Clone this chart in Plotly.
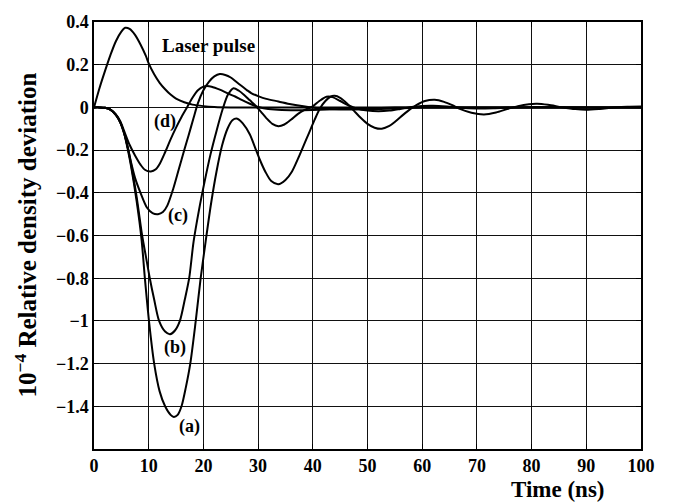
import plotly.graph_objects as go

# ---------------- data ----------------
laser_t = [0, 1, 2, 3, 4, 5, 5.7, 6.5, 7.5, 8.5, 9.5, 10, 11, 12, 13, 14, 15, 16.5, 18, 20, 22, 25, 30, 40, 50, 60, 70, 80, 90, 100]
laser_y = [0, 0.09, 0.17, 0.245, 0.31, 0.355, 0.373, 0.368, 0.34, 0.295, 0.24, 0.206, 0.155, 0.115, 0.085, 0.06, 0.041, 0.024, 0.013, 0.006, 0.002, 0, 0, 0, 0, 0, 0, 0, 0, 0]

d_t = [0, 1, 2, 3, 4, 4.8, 5.5, 6.5, 7.5, 8.5, 9.3, 10.4, 11.3, 12, 13, 14, 15, 16, 17, 18, 19, 20, 20.6, 21.5, 23, 24.5, 25.8, 27, 28.5, 29.7, 31, 33, 36, 40, 45, 50, 55, 60, 70, 80, 90, 100]
d_y = [0, 0, -0.002, -0.01, -0.033, -0.065, -0.11, -0.175, -0.225, -0.268, -0.292, -0.30, -0.29, -0.265, -0.21, -0.15, -0.095, -0.045, 0.0, 0.045, 0.08, 0.097, 0.10, 0.097, 0.083, 0.065, 0.051, 0.035, 0.017, 0.005, -0.004, -0.01, -0.013, -0.012, -0.008, -0.004, -0.001, 0, 0, 0, 0, 0]

c_t = [0, 1, 2, 3, 4, 4.8, 5.5, 6.2, 6.8, 7.5, 8.5, 9.7, 10.7, 11.7, 12.6, 13.4, 14.5, 15.5, 16.5, 17.3, 18.2, 19, 20, 21, 22, 23, 24, 25, 26, 27, 28, 28.8, 30, 31.5, 33.7, 36, 38.3, 41, 45, 50, 55, 60, 70, 80, 90, 100]
c_y = [0, 0, -0.002, -0.01, -0.035, -0.07, -0.12, -0.19, -0.26, -0.33, -0.40, -0.47, -0.495, -0.50, -0.49, -0.46, -0.38, -0.29, -0.20, -0.13, -0.05, 0.02, 0.08, 0.12, 0.145, 0.156, 0.152, 0.14, 0.12, 0.10, 0.08, 0.066, 0.053, 0.04, 0.028, 0.015, 0.005, -0.004, -0.01, -0.009, -0.005, -0.001, 0, 0, 0, 0]

b_t = [0, 1, 2, 3, 4, 4.8, 5.5, 6.2, 6.8, 7.8, 8.8, 9.5, 10.2, 11, 11.9, 13, 13.9, 14.8, 15.7, 16.6, 17.4, 18.2, 19.2, 20.2, 21.3, 22.4, 23.5, 24.5, 25.5, 26.5, 27.5, 28.5, 29.4, 30.5, 31.5, 32.6, 33.7, 34.8, 36, 37.3, 38.5, 40, 41.2, 42.5, 43.6, 45, 46.5, 48, 50, 52, 54, 56, 58, 60, 62, 64.5, 67, 70, 73, 77, 81, 90, 100]
b_y = [0, 0, -0.002, -0.01, -0.035, -0.07, -0.12, -0.19, -0.27, -0.42, -0.60, -0.70, -0.80, -0.90, -1.0, -1.05, -1.062, -1.045, -1.0, -0.9, -0.8, -0.63, -0.48, -0.35, -0.22, -0.11, -0.01, 0.06, 0.09, 0.078, 0.057, 0.033, 0.012, -0.02, -0.05, -0.077, -0.088, -0.08, -0.058, -0.03, -0.012, 0.005, 0.03, 0.05, 0.048, 0.03, 0.01, -0.005, -0.015, -0.018, -0.015, -0.007, 0.002, 0.007, 0.008, 0.004, -0.002, -0.005, -0.004, 0, 0.002, 0, 0]

a_t = [0, 1, 2, 3, 4, 4.8, 5.5, 6.2, 6.8, 7.8, 8.7, 9.3, 10.05, 11, 12, 13, 14, 14.6, 15.3, 16, 16.8, 17.6, 18.6, 19.5, 20.4, 21.4, 22.4, 23.4, 24.4, 25.3, 26.2, 27.2, 28.5, 29.4, 30.3, 31.3, 32.4, 33.7, 35, 36.2, 37.3, 38.3, 39.3, 40.3, 41.3, 42.3, 43.2, 44, 45, 46.2, 47.5, 48.8, 50, 51.3, 52.6, 54, 55.2, 56.5, 57.8, 59, 60.5, 62.3, 64, 65.5, 67, 69, 71.3, 73.5, 75.5, 77.5, 79.5, 81, 83, 85.5, 88, 90, 92.5, 95, 97.5, 100]
a_y = [0, 0, -0.002, -0.01, -0.035, -0.07, -0.12, -0.20, -0.28, -0.44, -0.62, -0.80, -1.0, -1.2, -1.33, -1.40, -1.44, -1.45, -1.44, -1.40, -1.31, -1.2, -1.0, -0.8, -0.63, -0.45, -0.30, -0.18, -0.10, -0.06, -0.053, -0.075, -0.127, -0.185, -0.244, -0.30, -0.345, -0.36, -0.34, -0.30, -0.24, -0.18, -0.12, -0.06, -0.005, 0.03, 0.05, 0.054, 0.045, 0.02, -0.015, -0.05, -0.077, -0.095, -0.10, -0.087, -0.064, -0.035, -0.008, 0.012, 0.03, 0.036, 0.026, 0.01, -0.008, -0.025, -0.033, -0.024, -0.008, 0.006, 0.015, 0.017, 0.012, 0.001, -0.008, -0.011, -0.007, -0.001, 0.003, 0.004]

x_ticks = [0, 10, 20, 30, 40, 50, 60, 70, 80, 90, 100]
y_ticks = [0.4, 0.2, 0, -0.2, -0.4, -0.6, -0.8, -1.0, -1.2, -1.4]
y_ticktext = ["0.4", "0.2", "0", "\u22120.2", "\u22120.4", "\u22120.6", "\u22120.8", "\u22121", "\u22121.2", "\u22121.4"]

labels = ["Laser pulse", "(d)", "(c)", "(b)", "(a)"]
label_x = [20.9, 13.0, 15.3, 14.8, 17.5]
label_y = [0.291, -0.068, -0.506, -1.124, -1.496]
label_size = [19, 18, 18, 18, 18]

# ---------------- figure ----------------
FONT = "Liberation Serif"
fig = go.Figure()
for t, y in [(laser_t, laser_y), (d_t, d_y), (c_t, c_y), (b_t, b_y), (a_t, a_y)]:
    fig.add_trace(go.Scatter(x=t, y=y, mode="lines",
                             line=dict(color="black", width=2, shape="spline", smoothing=0.8),
                             showlegend=False, hoverinfo="skip"))

for txt, lx, ly, sz in zip(labels, label_x, label_y, label_size):
    fig.add_annotation(x=lx, y=ly, text=txt, showarrow=False, xref="x", yref="y",
                       font=dict(family=FONT, size=sz, color="black", weight="bold"))

fig.add_annotation(x=0.848, y=-0.095, xref="paper", yref="paper", text="Time (ns)",
                   showarrow=False, xanchor="center", yanchor="middle",
                   font=dict(family=FONT, size=23, color="black", weight="bold"))
fig.add_annotation(x=-0.126, y=0.5, xref="paper", yref="paper",
                   text="10<sup>\u22124</sup> Relative density deviation",
                   textangle=-90, showarrow=False, xanchor="center", yanchor="middle",
                   font=dict(family=FONT, size=25, color="black", weight="bold"))

axis_common = dict(showgrid=True, gridcolor="#111111", gridwidth=1,
                   showline=True, linecolor="black", linewidth=1.5, mirror="ticks",
                   ticks="inside", ticklen=5, tickcolor="black", zeroline=False,
                   tickfont=dict(family=FONT, size=18, color="black", weight="bold"))
fig.update_xaxes(range=[0, 100], tickvals=x_ticks, **axis_common)
fig.update_yaxes(range=[-1.6, 0.4], tickvals=y_ticks, ticktext=y_ticktext, **axis_common)

fig.update_layout(width=673, height=502, margin=dict(l=94, r=32, t=18, b=53),
                  paper_bgcolor="white", plot_bgcolor="white",
                  font=dict(family=FONT, color="black"))
fig.write_html("out.html")
